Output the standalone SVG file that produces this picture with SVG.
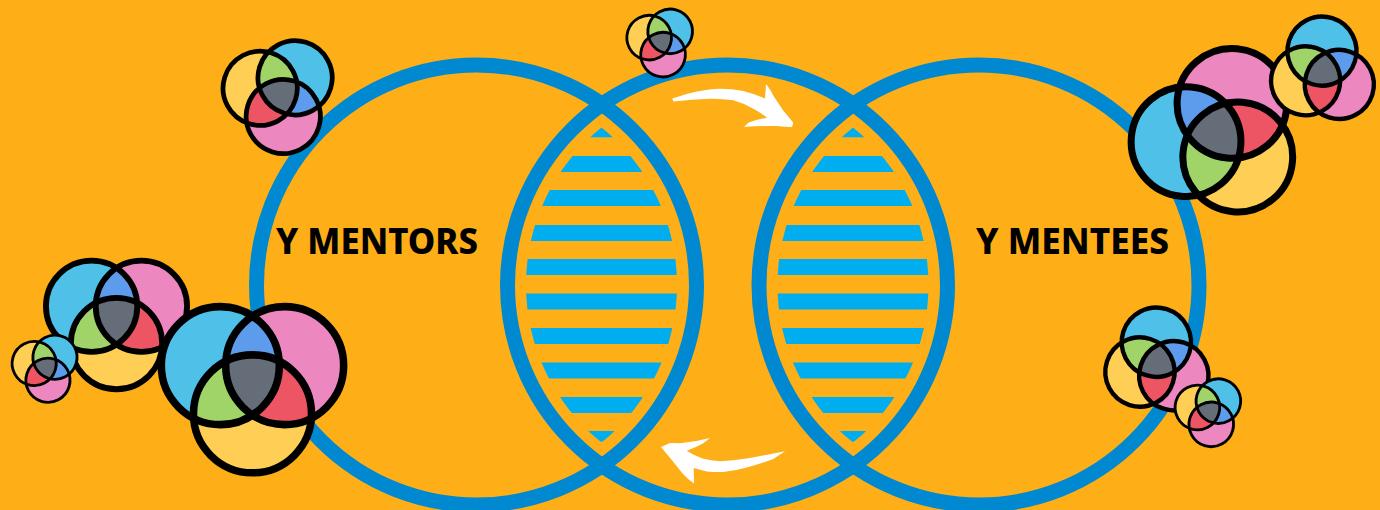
<svg xmlns="http://www.w3.org/2000/svg" width="1380" height="510" viewBox="0 0 1380 510">
<style>
.ring{fill:none;stroke:#0089d0;stroke-width:15}
.bar{fill:#00aeef}
.label{font-family:"Noto Sans","Open Sans","Liberation Sans",sans-serif;font-weight:800;font-size:35px;fill:#000}
.arrow{fill:#fff}
.o{fill:none;stroke:#000;stroke-width:7.5}
</style>
<defs>
<circle id="cb" cx="-32" cy="-16" r="58.7"/>
<circle id="cp" cx="32" cy="-16" r="58.7"/>
<circle id="cy" cx="0" cy="32" r="58.7"/>
<clipPath id="clipB"><use href="#cb"/></clipPath>
<clipPath id="clipP"><use href="#cp"/></clipPath>
<clipPath id="lensL"><path d="M601.5,127.5 A202,202 0 0 1 601.5,442.5 A202,202 0 0 1 601.5,127.5Z"/></clipPath>
<clipPath id="lensR"><path d="M853,127.5 A202,202 0 0 1 853,442.5 A202,202 0 0 1 853,127.5Z"/></clipPath>
<g id="venn">
<use href="#cb" fill="#4fc1e9"/>
<use href="#cp" fill="#ec87c0"/>
<use href="#cy" fill="#ffce54"/>
<use href="#cp" fill="#5d9cec" clip-path="url(#clipB)"/>
<use href="#cy" fill="#a0d468" clip-path="url(#clipB)"/>
<use href="#cy" fill="#ed5565" clip-path="url(#clipP)"/>
<g clip-path="url(#clipP)"><use href="#cy" fill="#656d78" clip-path="url(#clipB)"/></g>
<use href="#cb" class="o"/>
<use href="#cp" class="o"/>
<use href="#cy" class="o"/>
</g>
<g id="bars">
<rect class="bar" x="500" y="127" width="210" height="10.3"/>
<rect class="bar" x="500" y="156" width="210" height="16"/>
<rect class="bar" x="500" y="190" width="210" height="16"/>
<rect class="bar" x="500" y="225" width="210" height="16"/>
<rect class="bar" x="500" y="259" width="210" height="16"/>
<rect class="bar" x="500" y="293.5" width="210" height="16"/>
<rect class="bar" x="500" y="328" width="210" height="16"/>
<rect class="bar" x="500" y="362.5" width="210" height="16"/>
<rect class="bar" x="500" y="397" width="210" height="16"/>
<rect class="bar" x="500" y="431" width="210" height="10.7"/>
</g>
</defs>
<rect width="1380" height="510" fill="#feaf17"/>
<g id="circle-mentors"><circle class="ring" cx="476.5" cy="285" r="220"/></g>
<g id="circle-middle"><circle class="ring" cx="727.5" cy="285" r="220"/></g>
<g id="circle-mentees"><circle class="ring" cx="979" cy="285" r="220"/></g>
<g id="lens-left" clip-path="url(#lensL)"><use href="#bars"/></g>
<g id="lens-right" clip-path="url(#lensR)"><use href="#bars" x="251.5"/></g>
<g id="label-mentors"><text class="label" x="276" y="253.5" textLength="202" lengthAdjust="spacingAndGlyphs">Y MENTORS</text></g>
<g id="label-mentees"><text class="label" x="976" y="253.5" textLength="193" lengthAdjust="spacingAndGlyphs">Y MENTEES</text></g>
<g id="connectors">
<path class="arrow" d="M672.3,98.5 L686.7,94 Q703,89.5 720,88.8 Q732,88.8 743.3,91 Q755,94 765,98.5 L766,84 Q771,90 774,96.7 Q782,110 793.3,122.7 L792,127 Q784,127 776.7,126 Q760,125.5 744,127 L748.3,122.7 Q758,119 767,117.8 Q760,112 752.3,108.3 Q743,103 733.3,100.3 Q722,98.5 710,98.7 Q692,99.5 673.3,101.5Z"/>
<path class="arrow" d="M661,447 L670,443 L680,443.3 Q695,442 710,438 L703.3,443.3 Q695,448 686.7,450.7 Q694,455.5 702.5,458.5 Q711,460.8 720,461.2 Q733,460.8 746.7,458.6 Q766,455 785,451.2 L773.3,459 Q760,464 746.7,467.5 Q735,470.8 723.3,472 Q715,472.2 706.7,471.4 Q700,470 693.7,468 L694,483.5 Q688,479.5 683,474 Q672,460 661,447Z"/>
</g>
<g id="venn-top-left"><use href="#venn" transform="translate(279.5,94.2) rotate(107) scale(.632)"/></g>
<g id="venn-top-middle"><use href="#venn" transform="translate(660.8,41.2) rotate(107) scale(.38)"/></g>
<g id="venn-large-top-right"><use href="#venn" transform="translate(1218.6,134) rotate(-39.8) scale(.935)"/></g>
<g id="venn-far-top-right"><use href="#venn" transform="translate(1322.3,72.1) rotate(62.5) scale(.588)"/></g>
<g id="venn-lower-right"><use href="#venn" transform="translate(1156.7,363.3) rotate(62.5) scale(.59)"/></g>
<g id="venn-tiny-right"><use href="#venn" transform="translate(1209,411) rotate(107) scale(.38)"/></g>
<g id="venn-mid-left"><use href="#venn" transform="translate(116.5,318.7) scale(.778)"/></g>
<g id="venn-tiny-left"><use href="#venn" transform="translate(45.7,367) rotate(107) scale(.376)"/></g>
<g id="venn-large-left"><use href="#venn" transform="translate(252.5,381.7) scale(1.005)"/></g>
</svg>
